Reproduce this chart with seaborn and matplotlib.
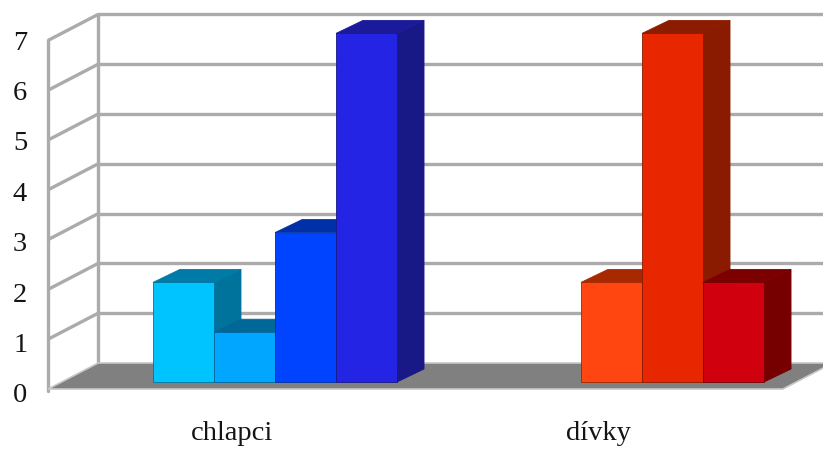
import numpy as np
import pandas as pd
import matplotlib
matplotlib.use("Agg")
import matplotlib.pyplot as plt
from matplotlib.patches import Polygon
import seaborn as sns

# ---- data -------------------------------------------------------------
groups = ["chlapci", "dívky"]
series = ["A", "B", "C", "D"]
values_chlapci = [2, 1, 3, 7]
values_divky = [0, 2, 7, 2]
y_ticks = [0, 1, 2, 3, 4, 5, 6, 7]

# face colours per bar (front, right side, top)
front_chlapci = ["#00C4FF", "#00A6FF", "#0044FF", "#2424E4"]
side_chlapci = ["#00739C", "#00649A", "#002E9E", "#181886"]
top_chlapci = ["#007AA6", "#006898", "#0030A8", "#1A1A9A"]
front_divky = ["#FF4510", "#FF4510", "#E82600", "#D0000E"]
side_divky = ["#A82800", "#A02600", "#8A1A00", "#760000"]
top_divky = ["#A82800", "#A82800", "#8C1C00", "#7C0000"]

df = pd.DataFrame({
    "group": np.repeat(groups, len(series)),
    "series": series * len(groups),
    "value": values_chlapci + values_divky,
})

# ---- figure / axes ----------------------------------------------------
W, H = 823, 450
sns.set_style("white")
plt.rcParams["font.family"] = ["Liberation Serif", "DejaVu Serif"]

fig = plt.figure(figsize=(W / 100, H / 100), dpi=100)
ax_l, ax_r, ax_t, ax_b = 30, 823, 0, 412          # axes box in pixels
ax = fig.add_axes([ax_l / W, 1 - ax_b / H, (ax_r - ax_l) / W, (ax_b - ax_t) / H])

sns.barplot(data=df, x="group", y="value", hue="series", order=groups,
            hue_order=series, width=0.665, gap=0, dodge=True, legend=False,
            saturation=1, ax=ax, zorder=5)

# scale: one category = 367 px, one unit = 49.8 px
px_x, px_y = 367.0, 49.8
x0_px, y0_px = 275.0, 382.0
ax.set_xlim((ax_l - x0_px) / px_x, (ax_r - x0_px) / px_x)
ax.set_ylim((y0_px - ax_b) / px_y, (y0_px - ax_t) / px_y)

# depth vectors (data units)
bar_depth = np.array([27 / px_x, 13 / px_y])
floor_front = np.array([-14 / px_x, -7 / px_y])
floor_back = np.array([36 / px_x, 19 / px_y])
x_left = -0.58
x_right = 1.422
top = max(y_ticks)

grid_col = "#ABABAB"

# floor
fl = [(x_left + floor_front[0], floor_front[1]),
      (x_left + floor_back[0], floor_back[1]),
      (x_right + floor_back[0], floor_back[1]),
      (x_right + floor_front[0], floor_front[1])]
ax.add_patch(Polygon(fl, closed=True, facecolor="#808080",
                     edgecolor="#C8C8C8", lw=1.2, zorder=2))

# left wall and back wall gridlines
for k in y_ticks:
    fx, fy = x_left + floor_front[0], k + floor_front[1]
    bx, by = x_left + floor_back[0], k + floor_back[1]
    if k > 0:
        ax.plot([fx, bx], [fy, by], color=grid_col, lw=2.4, zorder=1,
                solid_capstyle="butt")
        ax.plot([bx, x_right + floor_back[0] + 0.2], [by, by], color=grid_col,
                lw=2.4, zorder=1, solid_capstyle="butt")
ax.plot([x_left + floor_front[0]] * 2,
        [floor_front[1] - 0.04, top + floor_front[1]], color=grid_col, lw=2.4, zorder=1)
ax.plot([x_left + floor_back[0]] * 2,
        [floor_back[1], top + floor_back[1]], color=grid_col, lw=2.4, zorder=1)

# 3D faces for the bars, drawn left to right so nearer bars overlap
fronts = {"chlapci": front_chlapci, "dívky": front_divky}
sides = {"chlapci": side_chlapci, "dívky": side_divky}
tops = {"chlapci": top_chlapci, "dívky": top_divky}
bars = []
for si, cont in enumerate(ax.containers):
    for gi, rect in enumerate(cont):
        bars.append((rect.get_x(), gi, si, rect))
bars.sort(key=lambda b: b[0])
z = 5
for _, gi, si, rect in bars:
    g = groups[gi]
    h = rect.get_height()
    x = rect.get_x()
    w = rect.get_width()
    if not h:
        rect.set_visible(False)
        continue
    dx, dy = bar_depth
    side = [(x + w, 0), (x + w + dx, dy), (x + w + dx, h + dy), (x + w, h)]
    topf = [(x, h), (x + dx, h + dy), (x + w + dx, h + dy), (x + w, h)]
    ax.add_patch(Polygon(side, closed=True, facecolor=sides[g][si],
                         edgecolor=sides[g][si], lw=0.6, zorder=z))
    ax.add_patch(Polygon(topf, closed=True, facecolor=tops[g][si],
                         edgecolor=tops[g][si], lw=0.6, zorder=z + 0.1))
    rect.set_facecolor(fronts[g][si])
    rect.set_edgecolor(sides[g][si])
    rect.set_linewidth(0.6)
    rect.set_zorder(z + 0.2)
    z += 1

# axes decoration
for s in ax.spines.values():
    s.set_visible(False)
ax.grid(False)
ax.set_xlabel("")
ax.set_ylabel("")
label_step, label_shift = 50.4 / px_y, -11 / px_y
ax.set_yticks(np.array(y_ticks) * label_step + label_shift,
              [str(t) for t in y_ticks])
ax.set_xticks(np.arange(len(groups)) - 0.118, groups)
ax.tick_params(axis="both", length=0, labelsize=20.5, colors="#141414")
ax.tick_params(axis="y", pad=2)
ax.tick_params(axis="x", pad=6.5)
ax.set_facecolor("white")

fig.savefig("out.png", dpi=100, facecolor="white")
